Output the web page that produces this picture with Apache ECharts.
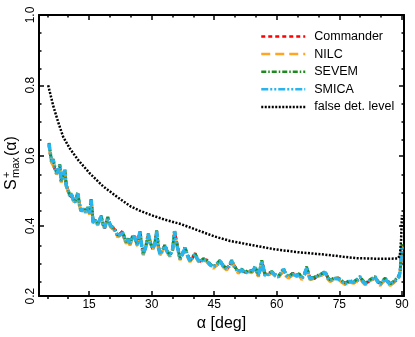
<!DOCTYPE html>
<html>
<head>
<meta charset="utf-8">
<script src="https://cdn.jsdelivr.net/npm/echarts@6/dist/echarts.min.js"></script>
<style>
  html, body { margin: 0; padding: 0; background: #fff; }
  #chart { width: 415px; height: 337px; }
</style>
</head>
<body>
<div id="chart"></div>
<script>
// angle grid shared by the four maps (deg)
const alpha = [
  5.4, 5.8, 6.0, 6.4, 6.8, 7.2, 7.6, 8.0, 8.3, 8.7,
  9.2, 9.5, 10.0, 10.4, 10.8, 11.2, 11.7, 12.3, 12.7, 13.1,
  13.6, 14.2, 14.7, 15.1, 15.5, 16.0, 16.5, 17.1, 17.9, 18.3,
  18.7, 19.5, 20.1, 20.7, 21.3, 21.9, 22.5, 23.1, 23.5, 23.9,
  24.4, 24.8, 25.5, 26.0, 26.6, 27.2, 27.6, 28.0, 28.6, 29.2,
  29.7, 30.3, 30.8, 31.2, 31.6, 32.0, 32.6, 33.2, 33.8, 34.4,
  35.0, 35.5, 36.0, 36.8, 37.4, 38.0, 38.6, 39.2, 39.8, 40.4,
  41.0, 41.6, 42.4, 43.2, 44.0, 44.8, 45.6, 46.4, 47.2, 48.0,
  48.6, 49.2, 50.0, 50.8, 51.6, 52.4, 53.2, 54.0, 54.8, 55.6,
  56.0, 56.4, 56.8, 57.2, 58.0, 58.8, 59.6, 60.4, 61.0, 61.6,
  62.2, 62.8, 63.8, 64.8, 65.4, 66.0, 66.6, 67.2, 67.6, 68.0,
  69.0, 70.0, 70.8, 71.6, 72.2, 72.8, 73.8, 74.8, 75.6, 76.4,
  77.4, 78.4, 79.2, 80.0, 80.6, 81.2, 82.4, 83.6, 84.2, 84.8,
  85.4, 86.0, 86.6, 87.2, 88.0, 88.8, 89.3, 89.6, 90.0
];

const commander = [
  .630,.598,.585,.586,.562,.552,.553,.570,.529,.538,
  .556,.519,.498,.487,.488,.477,.466,.490,.462,.444,
  .446,.443,.449,.438,.471,.411,.413,.407,.424,.408,
  .392,.420,.403,.392,.388,.369,.378,.385,.362,.355,
  .360,.350,.368,.369,.343,.382,.348,.322,.338,.373,
  .353,.333,.353,.382,.343,.322,.328,.346,.322,.318,
  .328,.382,.353,.308,.318,.335,.318,.302,.308,.322,
  .303,.299,.303,.303,.288,.285,.288,.297,.288,.279,
  .283,.297,.283,.271,.273,.268,.270,.271,.279,.261,
  .273,.297,.283,.261,.260,.271,.258,.257,.263,.274,
  .263,.252,.265,.256,.265,.252,.258,.279,.265,.252,
  .250,.261,.260,.266,.255,.246,.248,.252,.240,.238,
  .240,.242,.243,.251,.245,.237,.243,.252,.243,.235,
  .240,.247,.243,.235,.238,.247,.258,.270,.340
];

const nilc = [
  .628,.596,.580,.585,.563,.546,.554,.571,.523,.537,
  .557,.513,.497,.481,.488,.471,.465,.491,.457,.438,
  .446,.437,.449,.432,.472,.405,.413,.401,.425,.402,
  .391,.421,.397,.391,.382,.368,.373,.378,.362,.349,
  .360,.344,.369,.364,.342,.383,.342,.316,.338,.374,
  .347,.332,.348,.383,.337,.316,.328,.341,.322,.312,
  .328,.383,.347,.302,.318,.336,.312,.297,.308,.317,
  .302,.293,.303,.298,.287,.279,.288,.298,.282,.274,
  .283,.298,.277,.265,.273,.262,.270,.266,.280,.255,
  .273,.298,.277,.255,.260,.266,.257,.251,.263,.275,
  .257,.251,.260,.255,.260,.246,.258,.280,.259,.246,
  .250,.256,.260,.266,.249,.241,.248,.247,.239,.232,
  .240,.236,.243,.252,.239,.232,.243,.252,.237,.230,
  .240,.247,.237,.230,.238,.247,.253,.270,.342
];

const sevem = [
  .636,.602,.584,.590,.567,.551,.558,.575,.528,.542,
  .561,.518,.502,.486,.492,.476,.470,.495,.462,.443,
  .450,.442,.453,.437,.476,.410,.417,.406,.429,.407,
  .396,.425,.402,.396,.387,.373,.377,.382,.367,.354,
  .364,.349,.373,.368,.347,.387,.347,.321,.342,.378,
  .352,.337,.352,.387,.342,.321,.332,.345,.327,.317,
  .332,.387,.352,.307,.322,.340,.317,.302,.312,.321,
  .307,.298,.307,.302,.292,.284,.292,.302,.287,.279,
  .287,.302,.282,.270,.277,.267,.274,.270,.284,.260,
  .277,.302,.282,.260,.264,.270,.262,.256,.267,.279,
  .262,.256,.264,.260,.264,.251,.262,.284,.264,.251,
  .254,.260,.264,.270,.254,.246,.252,.251,.244,.237,
  .244,.241,.247,.256,.244,.237,.247,.256,.242,.235,
  .244,.251,.242,.235,.242,.251,.257,.274,.348
];

const smica = [
  .634,.600,.582,.588,.565,.549,.556,.573,.526,.540,
  .559,.516,.500,.484,.490,.474,.468,.493,.460,.441,
  .448,.440,.451,.435,.474,.408,.415,.404,.427,.405,
  .394,.423,.400,.394,.385,.371,.375,.380,.365,.352,
  .362,.347,.371,.366,.345,.385,.345,.319,.340,.376,
  .350,.335,.350,.385,.340,.319,.330,.343,.325,.315,
  .330,.385,.350,.305,.320,.338,.315,.300,.310,.319,
  .305,.296,.305,.300,.290,.282,.290,.300,.285,.277,
  .285,.300,.280,.268,.275,.265,.272,.268,.282,.258,
  .275,.300,.280,.258,.262,.268,.260,.254,.265,.277,
  .260,.254,.262,.258,.262,.249,.260,.282,.262,.249,
  .252,.258,.262,.268,.252,.244,.250,.249,.242,.235,
  .242,.239,.245,.254,.242,.235,.245,.254,.240,.233,
  .242,.249,.240,.233,.240,.249,.255,.272,.345
];

// false detection level
const falseAlpha = [5.2, 6.4, 7.6, 8.8, 10.4, 12.4, 15.2, 18.4, 22, 25, 27, 30, 33, 37, 41.6, 45,
  48.8, 55, 59.6, 65, 71.6, 76, 79, 85, 89, 89.5, 89.8, 90];
const falseLevel = [0.800, 0.742, 0.695, 0.653, 0.620, 0.587, 0.549, 0.512, 0.480, 0.455, 0.444, 0.430,
  0.418, 0.405, 0.385, 0.370, 0.357, 0.343, 0.333, 0.325, 0.318, 0.312, 0.308, 0.306, 0.307, 0.315, 0.360, 0.430];

const xMajor = [15, 30, 45, 60, 75, 90];
const xMinor = [5, 10, 20, 25, 35, 40, 50, 55, 65, 70, 80, 85];
const yMajor = [0.2, 0.4, 0.6, 0.8, 1.0];
const yMinor = [0.25, 0.3, 0.35, 0.45, 0.5, 0.55, 0.65, 0.7, 0.75, 0.85, 0.9, 0.95];

const FONT = 'Liberation Sans, Arial, sans-serif';

function pairs(xs, ys) {
  return xs.map((x, i) => [x, ys[i]]);
}

function xAx(grid, pos, ticks, len, showLabel, showLine) {
  return {
    type: 'value', gridIndex: grid, position: pos, min: 3, max: 90.5,
    axisLine: { show: showLine, lineStyle: { color: '#000', width: 2 } },
    axisTick: { show: true, inside: true, length: len, customValues: ticks, lineStyle: { color: '#000', width: 1.5 } },
    axisLabel: showLabel ? { show: true, customValues: ticks, margin: 3, color: '#000', fontSize: 12, fontFamily: FONT } : { show: false },
    splitLine: { show: false }
  };
}

function yAx(grid, pos, ticks, len, showLabel, showLine) {
  return {
    type: 'value', gridIndex: grid, position: pos, min: 0.2, max: 1.0,
    axisLine: { show: showLine, lineStyle: { color: '#000', width: 2 } },
    axisTick: { show: true, inside: true, length: len, customValues: ticks, lineStyle: { color: '#000', width: 1.5 } },
    axisLabel: showLabel ? {
      show: true, customValues: ticks, rotate: 90, margin: 2, color: '#000', fontSize: 12, fontFamily: FONT,
      formatter: v => v.toFixed(1)
    } : { show: false },
    splitLine: { show: false }
  };
}

const chart = echarts.init(document.getElementById('chart'));

const xMain = xAx(0, 'bottom', xMajor, 5, true, true);
xMain.name = 'α [deg]';
xMain.nameLocation = 'middle';
xMain.nameGap = 15;
xMain.nameTextStyle = { fontSize: 16, color: '#000', fontFamily: FONT };

chart.setOption({
  animation: false,
  backgroundColor: '#fff',
  grid: [
    { left: 39, right: 11, top: 15, bottom: 38 },
    { left: 39, right: 11, top: 15, bottom: 38 }
  ],
  xAxis: [
    xMain,
    xAx(0, 'top', xMajor, 5, false, true),
    xAx(1, 'bottom', xMinor, 2.5, false, false),
    xAx(1, 'top', xMinor, 2.5, false, false)
  ],
  yAxis: [
    yAx(0, 'left', yMajor, 5, true, true),
    yAx(0, 'right', yMajor, 5, false, true),
    yAx(1, 'left', yMinor, 2.5, false, false),
    yAx(1, 'right', yMinor, 2.5, false, false)
  ],
  legend: {
    orient: 'vertical', left: 255, top: 25,
    itemWidth: 44, itemHeight: 14, itemGap: 4.6,
    itemStyle: { opacity: 0 },
    lineStyle: { width: 2.5 },
    textStyle: { fontSize: 12.5, color: '#000', fontFamily: FONT, padding: [0, 0, 0, 4] },
    data: ['Commander', 'NILC', 'SEVEM', 'SMICA', 'false det. level']
  },
  graphic: [{
    type: 'group', x: 12, y: 190, rotation: Math.PI / 2,
    children: [
      { type: 'text', x: 0, y: 0, style: { text: 'S', font: '16px ' + FONT, fill: '#000', align: 'left', verticalAlign: 'middle', textAlign: 'left', textVerticalAlign: 'middle' } },
      { type: 'text', x: 12, y: -5, style: { text: '+', font: '11px ' + FONT, fill: '#000', align: 'left', verticalAlign: 'middle', textAlign: 'left', textVerticalAlign: 'middle' } },
      { type: 'text', x: 12, y: 4, style: { text: 'max', font: '11px ' + FONT, fill: '#000', align: 'left', verticalAlign: 'middle', textAlign: 'left', textVerticalAlign: 'middle' } },
      { type: 'text', x: 34, y: 0, style: { text: '(α)', font: '16px ' + FONT, fill: '#000', align: 'left', verticalAlign: 'middle', textAlign: 'left', textVerticalAlign: 'middle' } }
    ]
  }],
  series: [
    { name: 'Commander', type: 'line', xAxisIndex: 0, yAxisIndex: 0, symbol: 'none', data: pairs(alpha, commander),
      lineStyle: { color: '#ff0000', width: 3, type: [4, 3] }, itemStyle: { color: '#ff0000' } },
    { name: 'NILC', type: 'line', xAxisIndex: 0, yAxisIndex: 0, symbol: 'none', data: pairs(alpha, nilc),
      lineStyle: { color: '#ffa520', width: 3, type: [9, 5] }, itemStyle: { color: '#ffa520' } },
    { name: 'SEVEM', type: 'line', xAxisIndex: 0, yAxisIndex: 0, symbol: 'none', data: pairs(alpha, sevem),
      lineStyle: { color: '#1e8a1e', width: 3, type: [5, 2, 1.5, 2] }, itemStyle: { color: '#1e8a1e' } },
    { name: 'SMICA', type: 'line', xAxisIndex: 0, yAxisIndex: 0, symbol: 'none', data: pairs(alpha, smica),
      lineStyle: { color: '#28b4ee', width: 3.5, type: [7, 2, 2, 2, 2, 2] }, itemStyle: { color: '#28b4ee' } },
    { name: 'false det. level', type: 'line', xAxisIndex: 0, yAxisIndex: 0, symbol: 'none', data: pairs(falseAlpha, falseLevel),
      lineStyle: { color: '#000', width: 2.5, type: [2, 1.5] }, itemStyle: { color: '#000' } }
  ]
});
</script>
</body>
</html>
